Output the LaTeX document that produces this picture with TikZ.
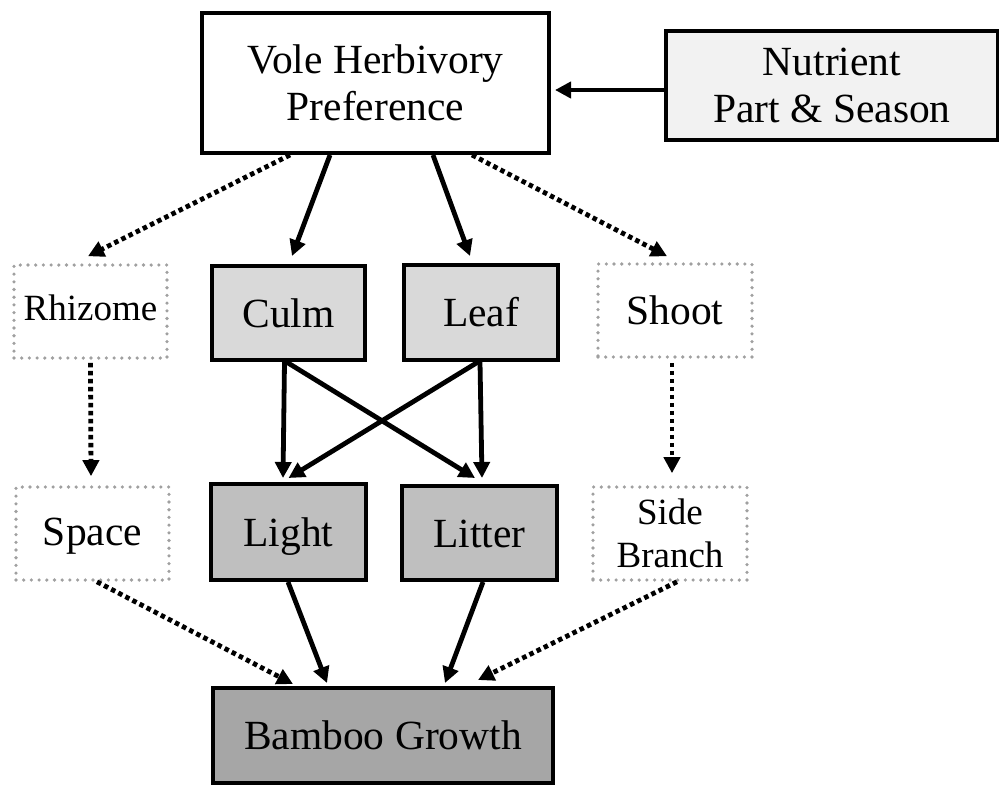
\documentclass[tikz,border=0pt]{standalone}
\usepackage{fontspec}
\setmainfont{Liberation Serif}
\usetikzlibrary{arrows.meta}

\definecolor{nutrgray}{HTML}{F2F2F2}
\definecolor{partgray}{HTML}{D9D9D9}
\definecolor{envgray}{HTML}{BFBFBF}
\definecolor{growgray}{HTML}{A6A6A6}
\definecolor{dotgray}{HTML}{A0A0A0}

\begin{document}
\begin{tikzpicture}[x=1pt, y=-1pt,
    box/.style={draw=black, line width=4pt, inner sep=0pt, align=center,
        font=\fontsize{41.5}{47}\selectfont},
    dotbox/.style={draw=dotgray, line width=3.6pt, line cap=round,
        dash pattern=on 0pt off 7.7pt, inner sep=0pt, align=center,
        font=\fontsize{41.5}{47}\selectfont},
    oneline/.style={text height=30pt, text depth=2pt},
    smalltext/.style={font=\fontsize{37}{43}\selectfont},
    solidarrow/.style={line width=4.8pt, -{Triangle[length=16pt,width=16pt]}},
    dotarrow/.style={line width=4.8pt, dash pattern=on 4.5pt off 3.5pt,
        -{Triangle[length=16pt,width=16pt]}}]

    \useasboundingbox (0,0) rectangle (999,785);

    % top row
    \node [box, fill=white, minimum width=347pt, minimum height=140pt] (vole) at (375.5,83) {Vole Herbivory\\Preference};
    \node [box, fill=nutrgray, minimum width=332pt, minimum height=109pt] (nutr) at (832,85.5) {Nutrient\\Part \& Season};

    % plant parts
    \node [dotbox, smalltext, text height=26pt, text depth=9pt, minimum width=153pt, minimum height=93pt] (rhiz) at (90.5,311.5) {Rhizome};
    \node [box, oneline, fill=partgray, minimum width=153pt, minimum height=94pt] (culm) at (288.5,313) {Culm};
    \node [box, oneline, fill=partgray, minimum width=154pt, minimum height=95pt] (leaf) at (481,312.5) {Leaf};
    \node [dotbox, oneline, minimum width=154pt, minimum height=93pt] (shoot) at (675,310.5) {Shoot};

    % effects
    \node [dotbox, text height=28pt, text depth=5pt, minimum width=153pt, minimum height=93pt] (space) at (92.5,533.5) {Space};
    \node [box, oneline, fill=envgray, minimum width=155pt, minimum height=96pt] (light) at (288.5,532) {Light};
    \node [box, oneline, fill=envgray, minimum width=155pt, minimum height=94pt] (litter) at (479.5,533) {Litter};
    \node [dotbox, smalltext, minimum width=154pt, minimum height=93pt] (side) at (670,533.5) {Side\\Branch};

    % outcome
    \node [box, oneline, fill=growgray, minimum width=340pt, minimum height=95pt] (bamboo) at (383,735.5) {Bamboo Growth};

    \draw [solidarrow] ([yshift=-4.5pt]nutr.west) -- ([xshift=4pt,yshift=-7pt]vole.east);

    \draw [dotarrow] ([xshift=-85.5pt]vole.south) -- ([xshift=-2.5pt,yshift=7pt]rhiz.north);
    \draw [solidarrow] ([xshift=-45.5pt]vole.south) -- ([xshift=3.5pt,yshift=8pt]culm.north);
    \draw [solidarrow] ([xshift=57.5pt]vole.south) -- ([xshift=-11pt,yshift=7pt]leaf.north);
    \draw [dotarrow] ([xshift=96.5pt]vole.south) -- ([xshift=-8pt,yshift=6pt]shoot.north);

    \draw [dotarrow] ([yshift=-3pt]rhiz.south) -- ([xshift=-1.5pt,yshift=9pt]space.north);
    \draw [dotarrow] ([xshift=-3pt,yshift=-4pt]shoot.south) -- ([xshift=2pt,yshift=12pt]side.north);

    \draw [solidarrow] ([xshift=-4pt]culm.south) -- ([xshift=-5.5pt,yshift=4pt]light.north);
    \draw [solidarrow] ([xshift=-2pt]culm.south) -- ([xshift=-4.5pt,yshift=6pt]litter.north);
    \draw [solidarrow] ([xshift=-3pt]leaf.south) -- ([yshift=4pt]light.north);
    \draw [solidarrow] ([xshift=-1pt]leaf.south) -- ([xshift=2.5pt,yshift=6pt]litter.north);

    \draw [solidarrow] ([xshift=-0.5pt]light.south) -- ([xshift=-56pt,yshift=3pt]bamboo.north);
    \draw [solidarrow] ([xshift=3.5pt]litter.south) -- ([xshift=62pt,yshift=3pt]bamboo.north);
    \draw [dotarrow] ([xshift=4.5pt]space.south) -- ([xshift=-90pt,yshift=2pt]bamboo.north);
    \draw [dotarrow] ([xshift=7pt]side.south) -- ([xshift=95pt,yshift=6pt]bamboo.north);
\end{tikzpicture}
\end{document}
